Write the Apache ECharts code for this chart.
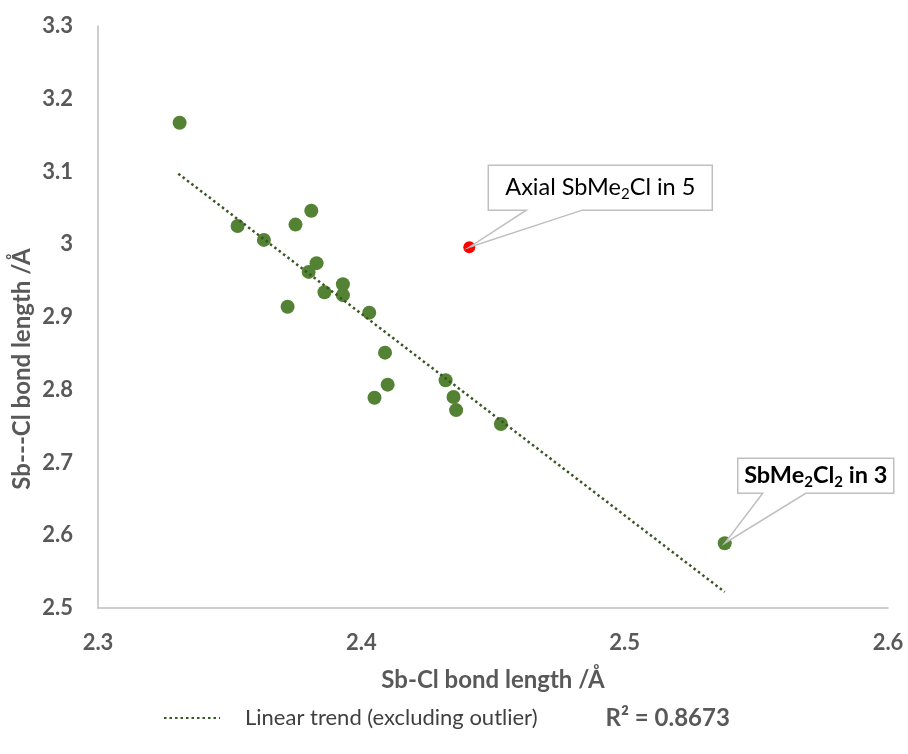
<!DOCTYPE html>
<html>
<head>
<meta charset="utf-8">
<script src="https://cdn.jsdelivr.net/npm/echarts@6/dist/echarts.min.js"></script>
<style>
html, body { margin: 0; padding: 0; background: #fff; }
#chart { width: 908px; height: 754px; }
</style>
</head>
<body>
<div id="chart"></div>
<script>
// Sb-Cl vs Sb---Cl bond lengths (Å)
var bondX = [2.331, 2.353, 2.363, 2.375, 2.381, 2.383, 2.380, 2.386, 2.393, 2.393,
             2.372, 2.403, 2.409, 2.410, 2.405, 2.432, 2.435, 2.436, 2.453, 2.538];
var bondY = [3.167, 3.025, 3.006, 3.027, 3.046, 2.974, 2.962, 2.934, 2.945, 2.930,
             2.914, 2.906, 2.851, 2.807, 2.789, 2.813, 2.790, 2.772, 2.753, 2.589];
var outlierX = [2.441];
var outlierY = [2.996];
// trend line end points
var trendX = [2.3305, 2.538];
var trendY = [3.097, 2.522];
var xTicks = [2.3, 2.4, 2.5, 2.6];
var yTicks = [2.5, 2.6, 2.7, 2.8, 2.9, 3, 3.1, 3.2, 3.3];

var FONT = 'Lato';
var GREY = '#595959';

var zip = function (a, b) {
    var out = [];
    for (var i = 0; i < a.length; i++) {
        out.push([a[i], b[i]]);
    }
    return out;
};

var chart = echarts.init(document.getElementById('chart'));

var option = {
    animation: false,
    textStyle: { fontFamily: FONT },
    grid: { left: 98, right: 20, top: 26, bottom: 146 },
    legend: {
        data: ['Linear trend (excluding outlier)'],
        left: 158,
        top: 701,
        itemWidth: 56,
        itemHeight: 14,
        itemStyle: { opacity: 0 },
        formatter: function (name) {
            return '{a|' + name + '}{b|R² = 0.8673}';
        },
        textStyle: {
            rich: {
                a: { fontFamily: FONT, fontSize: 22, color: '#404040', padding: [0, 0, 0, 20] },
                b: { fontFamily: FONT, fontSize: 24, fontWeight: 'bold', color: GREY, padding: [0, 0, 0, 68] }
            }
        }
    },
    xAxis: {
        type: 'value',
        min: xTicks[0],
        max: xTicks[xTicks.length - 1],
        interval: 0.1,
        name: 'Sb-Cl bond length /Å',
        nameLocation: 'middle',
        nameGap: 60,
        nameTextStyle: { fontFamily: FONT, fontSize: 24, fontWeight: 'bold', color: GREY },
        axisLine: { lineStyle: { color: '#BFBFBF', width: 1.5 } },
        axisTick: { show: false },
        splitLine: { show: false },
        axisLabel: {
            margin: 24,
            fontFamily: FONT, fontSize: 22, fontWeight: 'bold', color: GREY
        }
    },
    yAxis: {
        type: 'value',
        min: yTicks[0],
        max: yTicks[yTicks.length - 1],
        interval: 0.1,
        axisLine: { show: true, lineStyle: { color: '#BFBFBF', width: 1.5 } },
        axisTick: { show: false },
        splitLine: { show: false },
        axisLabel: {
            margin: 25,
            fontFamily: FONT, fontSize: 22, fontWeight: 'bold', color: GREY
        }
    },
    series: [{
        name: 'data',
        type: 'scatter',
        symbolSize: 14,
        itemStyle: { color: '#548235', opacity: 1 },
        data: zip(bondX, bondY),
        z: 3
    }, {
        name: 'outlier',
        type: 'scatter',
        symbolSize: 12,
        itemStyle: { color: '#FF0000', opacity: 1 },
        data: zip(outlierX, outlierY),
        z: 3
    }, {
        name: 'Linear trend (excluding outlier)',
        type: 'line',
        symbol: 'none',
        lineStyle: { color: '#385723', width: 2.5, type: [2.5, 3] },
        itemStyle: { color: '#385723' },
        data: zip(trendX, trendY),
        z: 4
    }]
};

chart.setOption(option);

// callout shape: box above-right of the point with a wedge pointing at it
var callout = function (pt, box, wedge, text, rich) {
    var L = pt[0] + box[0], T = pt[1] + box[1];
    var R = L + box[2], B = T + box[3];
    return [{
        type: 'polygon',
        shape: {
            points: [[L, T], [R, T], [R, B], [pt[0] + wedge[1], B], pt,
                     [pt[0] + wedge[0], B], [L, B]]
        },
        style: { fill: '#fff', stroke: '#BFBFBF', lineWidth: 1.5 },
        z: 10
    }, {
        type: 'text',
        x: (L + R) / 2,
        y: (T + B) / 2,
        style: {
            text: text,
            rich: rich,
            align: 'center',
            verticalAlign: 'middle'
        },
        z: 11
    }];
};

var redPt = chart.convertToPixel({ seriesIndex: 1 }, [outlierX[0], outlierY[0]]);
var lastPt = chart.convertToPixel({ seriesIndex: 0 }, [bondX[19], bondY[19]]);

var graphics = [].concat(
    callout(redPt, [19, -82, 224, 45], [57, 113],
        '{t|Axial SbMe}{s|2}{t|Cl in 5}', {
            t: { fontFamily: FONT, fontSize: 23.5, color: GREY, lineHeight: 28 },
            s: { fontFamily: FONT, fontSize: 15, color: GREY, lineHeight: 28, verticalAlign: 'bottom' }
        }),
    callout(lastPt, [13, -85, 156, 35], [38, 81],
        '{t|SbMe}{s|2}{t|Cl}{s|2}{t| in 3}', {
            t: { fontFamily: FONT, fontSize: 23.5, fontWeight: 'bold', color: '#404040', lineHeight: 28 },
            s: { fontFamily: FONT, fontSize: 15, fontWeight: 'bold', color: '#404040', lineHeight: 28, verticalAlign: 'bottom' }
        }),
    [{
        type: 'text',
        x: 22,
        y: 369,
        rotation: Math.PI / 2,
        style: {
            text: 'Sb---Cl bond length /Å',
            fontFamily: FONT, fontSize: 24, fontWeight: 'bold', fill: GREY,
            align: 'center', verticalAlign: 'middle'
        }
    }]
);

chart.setOption({ graphic: graphics });
</script>
</body>
</html>
